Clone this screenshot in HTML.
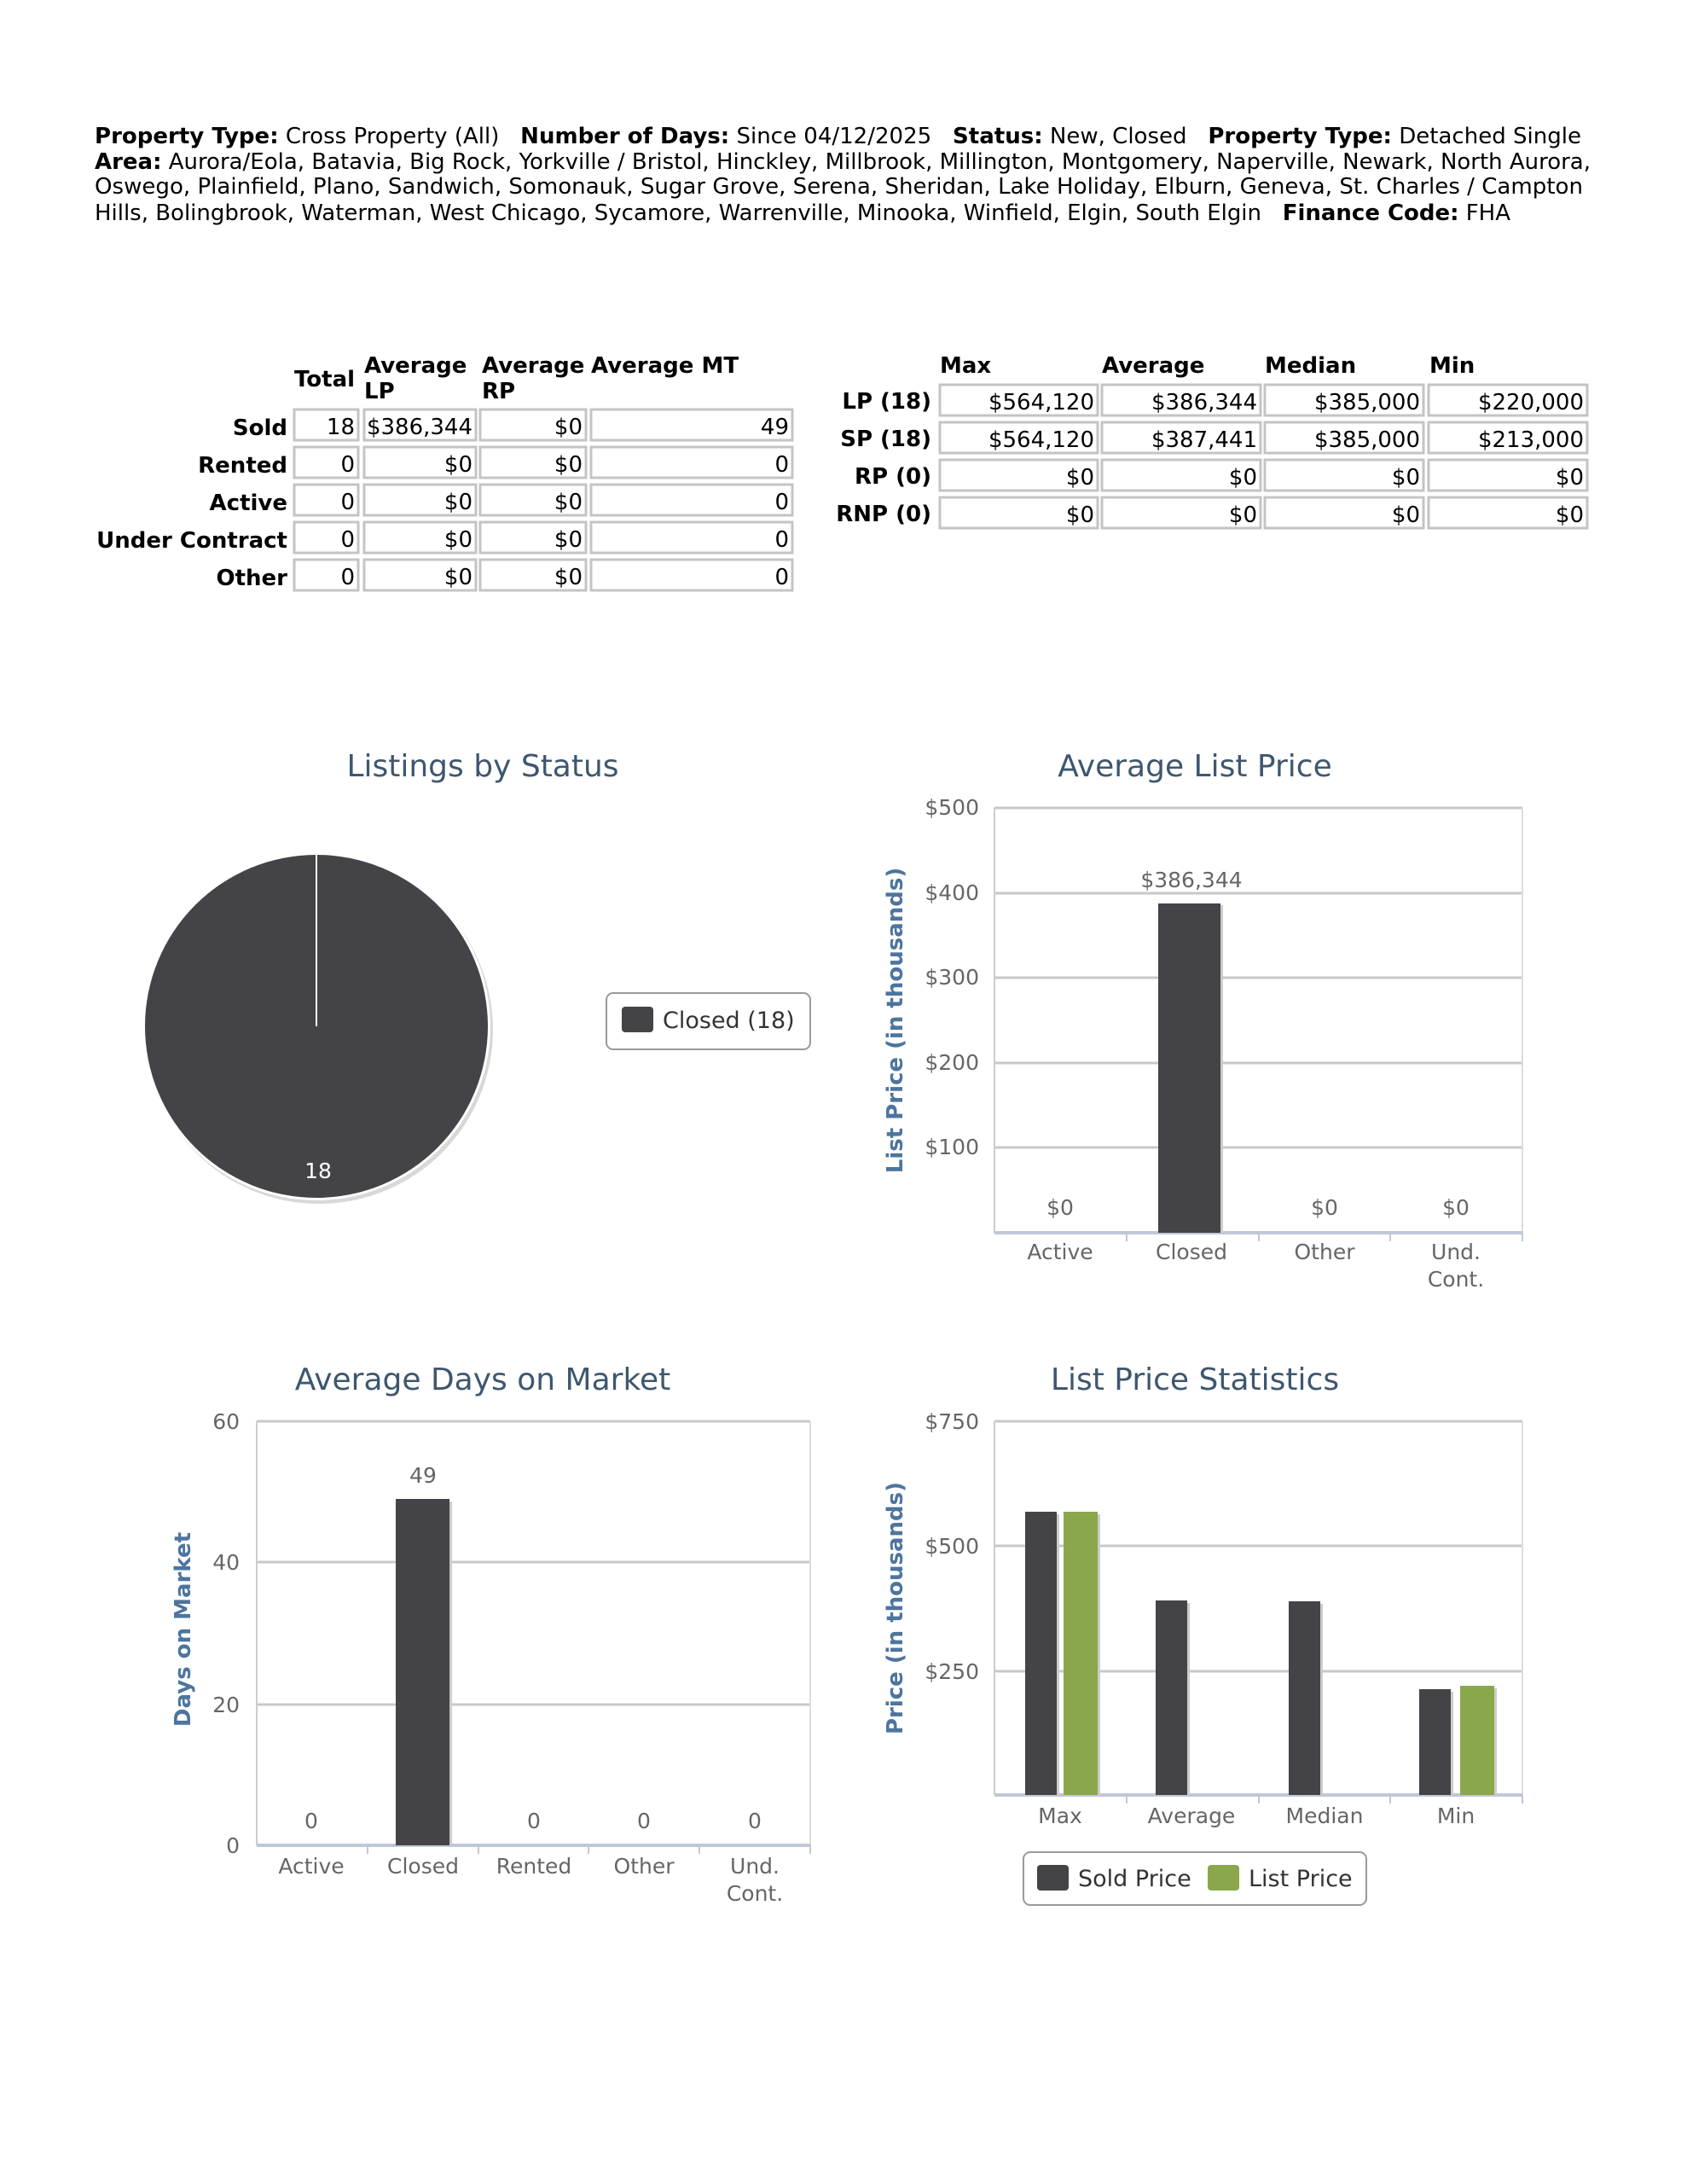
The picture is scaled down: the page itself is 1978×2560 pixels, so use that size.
<!DOCTYPE html>
<html><head><meta charset="utf-8"><style>
html,body{margin:0;padding:0;background:#fff;}
svg{display:block;}
.h{font-family:"DejaVu Sans",Verdana,sans-serif;font-size:26px;fill:#000;white-space:pre;}
.b{font-weight:bold;}
.c{font-family:"DejaVu Sans",sans-serif;font-size:26px;fill:#000;}
.t{font-family:"DejaVu Sans","Liberation Sans",sans-serif;font-size:36px;fill:#3e576f;}
.ax{font-family:"DejaVu Sans","Liberation Sans",sans-serif;font-size:25px;fill:#666;}
.at{font-family:"DejaVu Sans",sans-serif;font-size:26px;font-weight:bold;fill:#4d759e;}
.cell{fill:#fff;stroke:#c4c4c4;stroke-width:3;}
.g{stroke:#c8c8c8;stroke-width:3;}
</style></head><body>
<svg width="1978" height="2560" xmlns="http://www.w3.org/2000/svg" xml:space="preserve">
<rect width="1978" height="2560" fill="#fff"/>
<text class="h" x="111" y="168" textLength="1743" lengthAdjust="spacingAndGlyphs"><tspan class="b">Property Type:</tspan> Cross Property (All)   <tspan class="b">Number of Days:</tspan> Since 04/12/2025   <tspan class="b">Status:</tspan> New, Closed   <tspan class="b">Property Type:</tspan> Detached Single</text>
<text class="h" x="111" y="198" textLength="1754" lengthAdjust="spacingAndGlyphs"><tspan class="b">Area:</tspan> Aurora/Eola, Batavia, Big Rock, Yorkville / Bristol, Hinckley, Millbrook, Millington, Montgomery, Naperville, Newark, North Aurora,</text>
<text class="h" x="111" y="227" textLength="1745" lengthAdjust="spacingAndGlyphs">Oswego, Plainfield, Plano, Sandwich, Somonauk, Sugar Grove, Serena, Sheridan, Lake Holiday, Elburn, Geneva, St. Charles / Campton</text>
<text class="h" x="111" y="258" textLength="1660" lengthAdjust="spacingAndGlyphs">Hills, Bolingbrook, Waterman, West Chicago, Sycamore, Warrenville, Minooka, Winfield, Elgin, South Elgin   <tspan class="b">Finance Code:</tspan> FHA</text>

<g class="c b">
<text x="345" y="453">Total</text>
<text x="427" y="437">Average</text><text x="427" y="467">LP</text>
<text x="565" y="437">Average</text><text x="565" y="467">RP</text>
<text x="693" y="437">Average MT</text>
</g>
<g class="c">
<g class="b" text-anchor="end">
<text x="337" y="510">Sold</text><text x="337" y="554">Rented</text><text x="337" y="598">Active</text><text x="337" y="642">Under Contract</text><text x="337" y="686">Other</text>
</g>
<g>
<rect class="cell" x="345" y="480" width="75" height="36"/><rect class="cell" x="427" y="480" width="131" height="36"/><rect class="cell" x="563" y="480" width="124" height="36"/><rect class="cell" x="693" y="480" width="236" height="36"/>
<rect class="cell" x="345" y="524" width="75" height="36"/><rect class="cell" x="427" y="524" width="131" height="36"/><rect class="cell" x="563" y="524" width="124" height="36"/><rect class="cell" x="693" y="524" width="236" height="36"/>
<rect class="cell" x="345" y="568" width="75" height="36"/><rect class="cell" x="427" y="568" width="131" height="36"/><rect class="cell" x="563" y="568" width="124" height="36"/><rect class="cell" x="693" y="568" width="236" height="36"/>
<rect class="cell" x="345" y="612" width="75" height="36"/><rect class="cell" x="427" y="612" width="131" height="36"/><rect class="cell" x="563" y="612" width="124" height="36"/><rect class="cell" x="693" y="612" width="236" height="36"/>
<rect class="cell" x="345" y="656" width="75" height="36"/><rect class="cell" x="427" y="656" width="131" height="36"/><rect class="cell" x="563" y="656" width="124" height="36"/><rect class="cell" x="693" y="656" width="236" height="36"/>
</g>
<g text-anchor="end">
<text x="416" y="509">18</text><text x="554" y="509">$386,344</text><text x="683" y="509">$0</text><text x="925" y="509">49</text>
<text x="416" y="553">0</text><text x="554" y="553">$0</text><text x="683" y="553">$0</text><text x="925" y="553">0</text>
<text x="416" y="597">0</text><text x="554" y="597">$0</text><text x="683" y="597">$0</text><text x="925" y="597">0</text>
<text x="416" y="641">0</text><text x="554" y="641">$0</text><text x="683" y="641">$0</text><text x="925" y="641">0</text>
<text x="416" y="685">0</text><text x="554" y="685">$0</text><text x="683" y="685">$0</text><text x="925" y="685">0</text>
</g>
</g>

<g class="c b">
<text x="1102" y="437">Max</text><text x="1292" y="437">Average</text><text x="1483" y="437">Median</text><text x="1676" y="437">Min</text>
<g text-anchor="end"><text x="1092" y="479">LP (18)</text><text x="1092" y="523">SP (18)</text><text x="1092" y="567">RP (0)</text><text x="1092" y="611">RNP (0)</text></g>
</g>
<g class="c">
<rect class="cell" x="1102" y="451" width="185" height="36"/><rect class="cell" x="1292" y="451" width="186" height="36"/><rect class="cell" x="1483" y="451" width="186" height="36"/><rect class="cell" x="1675" y="451" width="186" height="36"/>
<rect class="cell" x="1102" y="495" width="185" height="36"/><rect class="cell" x="1292" y="495" width="186" height="36"/><rect class="cell" x="1483" y="495" width="186" height="36"/><rect class="cell" x="1675" y="495" width="186" height="36"/>
<rect class="cell" x="1102" y="539" width="185" height="36"/><rect class="cell" x="1292" y="539" width="186" height="36"/><rect class="cell" x="1483" y="539" width="186" height="36"/><rect class="cell" x="1675" y="539" width="186" height="36"/>
<rect class="cell" x="1102" y="583" width="185" height="36"/><rect class="cell" x="1292" y="583" width="186" height="36"/><rect class="cell" x="1483" y="583" width="186" height="36"/><rect class="cell" x="1675" y="583" width="186" height="36"/>
<g text-anchor="end">
<text x="1283" y="480">$564,120</text><text x="1474" y="480">$386,344</text><text x="1665" y="480">$385,000</text><text x="1857" y="480">$220,000</text>
<text x="1283" y="524">$564,120</text><text x="1474" y="524">$387,441</text><text x="1665" y="524">$385,000</text><text x="1857" y="524">$213,000</text>
<text x="1283" y="568">$0</text><text x="1474" y="568">$0</text><text x="1665" y="568">$0</text><text x="1857" y="568">$0</text>
<text x="1283" y="612">$0</text><text x="1474" y="612">$0</text><text x="1665" y="612">$0</text><text x="1857" y="612">$0</text>
</g>
</g>

<text class="t" x="566" y="910" text-anchor="middle">Listings by Status</text>
<circle cx="374" cy="1207" r="204" fill="#d8d8d8"/>
<circle cx="371" cy="1203" r="204" fill="#fff"/>
<circle cx="371" cy="1203" r="201" fill="#434348"/>
<line x1="371" y1="1000" x2="371" y2="1203" stroke="#fff" stroke-width="2"/>
<text class="ax" x="373" y="1381" text-anchor="middle" style="fill:#fff">18</text>
<rect x="711" y="1164" width="239" height="66" rx="8" fill="#fff" stroke="#999" stroke-width="2"/>
<rect x="729" y="1180" width="37" height="30" rx="4" fill="#434348"/>
<text class="ax" x="777" y="1205" style="fill:#333;font-size:27px">Closed (18)</text>

<text class="t" x="1401" y="910" text-anchor="middle">Average List Price</text>
<g>
<line class="g" x1="1166" y1="947" x2="1785" y2="947"/>
<line class="g" x1="1166" y1="1047" x2="1785" y2="1047"/>
<line class="g" x1="1166" y1="1146" x2="1785" y2="1146"/>
<line class="g" x1="1166" y1="1246" x2="1785" y2="1246"/>
<line class="g" x1="1166" y1="1345" x2="1785" y2="1345"/>
<line x1="1166" y1="947" x2="1166" y2="1445" stroke="#ccc" stroke-width="2"/>
<line x1="1785" y1="947" x2="1785" y2="1445" stroke="#ddd" stroke-width="2"/>
<line x1="1166" y1="1445" x2="1785" y2="1445" stroke="#c0c8d8" stroke-width="4"/>
<g stroke="#c0c8d8" stroke-width="2"><line x1="1321" y1="1445" x2="1321" y2="1455"/><line x1="1476" y1="1445" x2="1476" y2="1455"/><line x1="1630" y1="1445" x2="1630" y2="1455"/><line x1="1785" y1="1445" x2="1785" y2="1455"/></g>
<rect x="1361" y="1061" width="73" height="384" fill="#ccc"/>
<rect x="1358" y="1059" width="73" height="386" fill="#434348"/>
<g class="ax" text-anchor="end"><text x="1148" y="955">$500</text><text x="1148" y="1055">$400</text><text x="1148" y="1154">$300</text><text x="1148" y="1254">$200</text><text x="1148" y="1353">$100</text></g>
<g class="ax" text-anchor="middle">
<text x="1243" y="1424">$0</text><text x="1553" y="1424">$0</text><text x="1707" y="1424">$0</text>
<text x="1397" y="1040">$386,344</text>
<text x="1243" y="1476">Active</text><text x="1397" y="1476">Closed</text><text x="1553" y="1476">Other</text><text x="1707" y="1476">Und.</text><text x="1707" y="1508">Cont.</text>
</g>
<text class="at" transform="translate(1058,1196) rotate(-90)" text-anchor="middle">List Price (in thousands)</text>
</g>

<text class="t" x="566" y="1629" text-anchor="middle">Average Days on Market</text>
<g>
<line class="g" x1="301" y1="1666" x2="950" y2="1666"/>
<line class="g" x1="301" y1="1831" x2="950" y2="1831"/>
<line class="g" x1="301" y1="1998" x2="950" y2="1998"/>
<line x1="301" y1="1666" x2="301" y2="2163" stroke="#ccc" stroke-width="2"/>
<line x1="950" y1="1666" x2="950" y2="2163" stroke="#ddd" stroke-width="2"/>
<line x1="301" y1="2163" x2="950" y2="2163" stroke="#c0c8d8" stroke-width="4"/>
<g stroke="#c0c8d8" stroke-width="2"><line x1="431" y1="2163" x2="431" y2="2173"/><line x1="561" y1="2163" x2="561" y2="2173"/><line x1="690" y1="2163" x2="690" y2="2173"/><line x1="820" y1="2163" x2="820" y2="2173"/><line x1="950" y1="2163" x2="950" y2="2173"/></g>
<rect x="467" y="1760" width="63" height="403" fill="#ccc"/>
<rect x="464" y="1757" width="63" height="406" fill="#434348"/>
<g class="ax" text-anchor="end"><text x="281" y="1675">60</text><text x="281" y="1840">40</text><text x="281" y="2007">20</text><text x="281" y="2172">0</text></g>
<g class="ax" text-anchor="middle">
<text x="365" y="2143">0</text><text x="626" y="2143">0</text><text x="755" y="2143">0</text><text x="885" y="2143">0</text>
<text x="496" y="1738">49</text>
<text x="365" y="2196">Active</text><text x="496" y="2196">Closed</text><text x="626" y="2196">Rented</text><text x="755" y="2196">Other</text><text x="885" y="2196">Und.</text><text x="885" y="2228">Cont.</text>
</g>
<text class="at" transform="translate(223,1910) rotate(-90)" text-anchor="middle">Days on Market</text>
</g>

<text class="t" x="1401" y="1629" text-anchor="middle">List Price Statistics</text>
<g>
<line class="g" x1="1166" y1="1666" x2="1785" y2="1666"/>
<line class="g" x1="1166" y1="1812" x2="1785" y2="1812"/>
<line class="g" x1="1166" y1="1959" x2="1785" y2="1959"/>
<line x1="1166" y1="1666" x2="1166" y2="2104" stroke="#ccc" stroke-width="2"/>
<line x1="1785" y1="1666" x2="1785" y2="2104" stroke="#ddd" stroke-width="2"/>
<line x1="1166" y1="2104" x2="1785" y2="2104" stroke="#c0c8d8" stroke-width="4"/>
<g stroke="#c0c8d8" stroke-width="2"><line x1="1321" y1="2104" x2="1321" y2="2114"/><line x1="1476" y1="2104" x2="1476" y2="2114"/><line x1="1630" y1="2104" x2="1630" y2="2114"/><line x1="1785" y1="2104" x2="1785" y2="2114"/></g>
<g fill="#ccc">
<rect x="1205" y="1775" width="37" height="329"/><rect x="1250" y="1775" width="40" height="329"/>
<rect x="1358" y="1879" width="37" height="225"/><rect x="1514" y="1880" width="37" height="224"/>
<rect x="1667" y="1983" width="37" height="121"/><rect x="1715" y="1979" width="40" height="125"/>
</g>
<g fill="#434348">
<rect x="1202" y="1772" width="37" height="332"/>
<rect x="1355" y="1876" width="37" height="228"/>
<rect x="1511" y="1877" width="37" height="227"/>
<rect x="1664" y="1980" width="37" height="124"/>
</g>
<g fill="#8ba74c">
<rect x="1247" y="1772" width="40" height="332"/>
<rect x="1712" y="1976" width="40" height="128"/>
</g>
<g class="ax" text-anchor="end"><text x="1148" y="1675">$750</text><text x="1148" y="1821">$500</text><text x="1148" y="1968">$250</text></g>
<g class="ax" text-anchor="middle">
<text x="1243" y="2137">Max</text><text x="1397" y="2137">Average</text><text x="1553" y="2137">Median</text><text x="1707" y="2137">Min</text>
</g>
<text class="at" transform="translate(1058,1885) rotate(-90)" text-anchor="middle">Price (in thousands)</text>
<rect x="1200" y="2171" width="402" height="62" rx="8" fill="#fff" stroke="#999" stroke-width="2"/>
<rect x="1216" y="2186" width="37" height="30" rx="4" fill="#434348"/>
<text class="ax" x="1264" y="2211" style="fill:#333;font-size:27px">Sold Price</text>
<rect x="1416" y="2186" width="37" height="30" rx="4" fill="#8ba74c"/>
<text class="ax" x="1464" y="2211" style="fill:#333;font-size:27px">List Price</text>
</g>
</svg>
</body></html>
